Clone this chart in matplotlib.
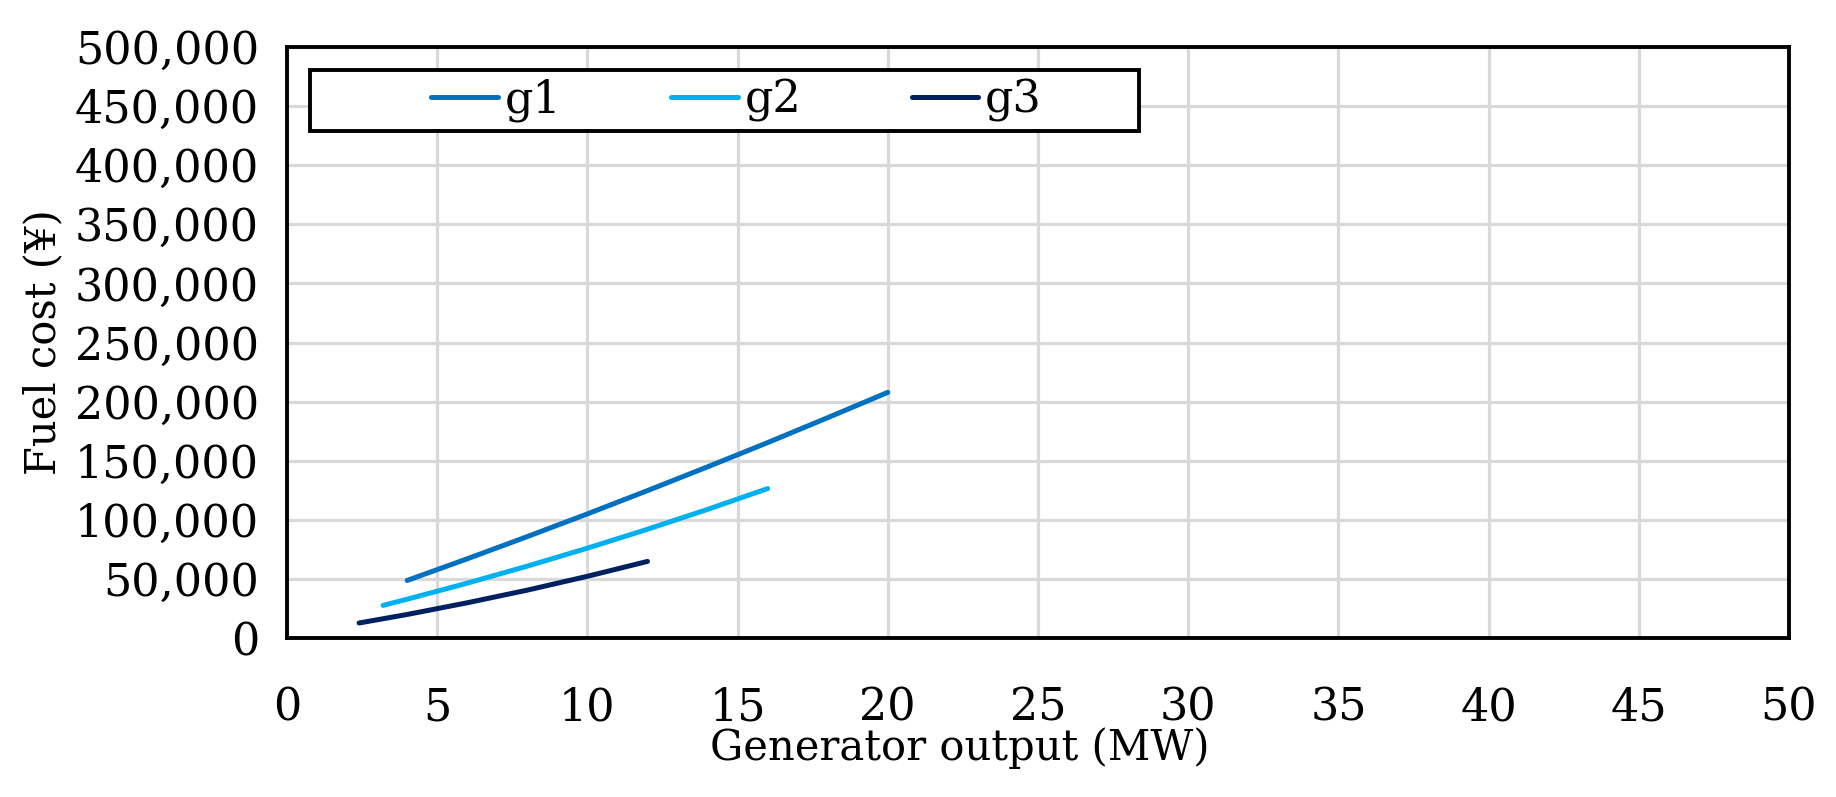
import matplotlib
matplotlib.use("Agg")
import matplotlib.pyplot as plt
from matplotlib.patches import Rectangle
from matplotlib.ticker import FuncFormatter, MultipleLocator

plt.rcParams['font.family'] = ['DejaVu Serif']

# data
g1_x = [4, 6, 8, 10, 12, 14, 16, 18, 20]
g1_y = [48700, 67000, 85800, 105000, 124700, 144800, 165300, 186400, 207800]
g2_x = [3.2, 4, 6, 8, 10, 12, 14, 16]
g2_y = [27600, 32800, 46400, 60800, 76000, 92000, 108800, 126400]
g3_x = [2.4, 4, 6, 8, 10, 12]
g3_y = [12700, 19900, 29800, 40500, 52200, 64800]
series_names = ['g1', 'g2', 'g3']
series_colors = ['#0070C0', '#00B0F0', '#002060']

FS_TICK = 32
FS_LABEL = 30
W, H = 1836, 797
fig = plt.figure(figsize=(W / 100, H / 100), dpi=100)
ax = fig.add_axes([287 / W, 1 - 638 / H, (1789 - 287) / W, (638 - 47) / H])

for xs, ys, name, c in zip([g1_x, g2_x, g3_x], [g1_y, g2_y, g3_y], series_names, series_colors):
    ax.plot(xs, ys, color=c, lw=3.6, label=name, solid_capstyle='round', zorder=3)

ax.set_xlim(0, 50)
ax.set_ylim(0, 500000)
ax.xaxis.set_major_locator(MultipleLocator(5))
ax.yaxis.set_major_locator(MultipleLocator(50000))
ax.yaxis.set_major_formatter(FuncFormatter(lambda v, p: f"{int(v):,}"))
ax.grid(True, color='#d9d9d9', lw=2.3, zorder=0)
ax.set_axisbelow(True)
for s in ax.spines.values():
    s.set_linewidth(2.8)
    s.set_color('black')
ax.tick_params(axis='both', length=0, labelsize=FS_TICK)
ax.tick_params(axis='x', pad=35)
ax.tick_params(axis='y', pad=20)

ax.set_xlabel('Generator output (MW)', fontsize=FS_LABEL)
ax.xaxis.set_label_coords(0.448, -0.15)
ax.set_ylabel('Fuel cost (¥)', fontsize=FS_LABEL)
ax.yaxis.set_label_coords(-0.148, 0.5)

# legend box
x0, x1 = (310 - 287) / 1502, (1139 - 287) / 1502
y0, y1 = (638 - 131) / 591, (638 - 70) / 591
ax.add_patch(Rectangle((x0, y0), x1 - x0, y1 - y0, transform=ax.transAxes,
                       facecolor='white', edgecolor='black', lw=2.8, zorder=4))
leg = ax.legend(loc='center', bbox_to_anchor=((x0 + x1) / 2 + 0.008, (y0 + y1) / 2),
                ncol=3, frameon=False, fontsize=FS_TICK, handlelength=1.5,
                handletextpad=0.15, columnspacing=2.48, borderpad=0)
leg.set_zorder(5)

fig.savefig('out.png', dpi=100)
